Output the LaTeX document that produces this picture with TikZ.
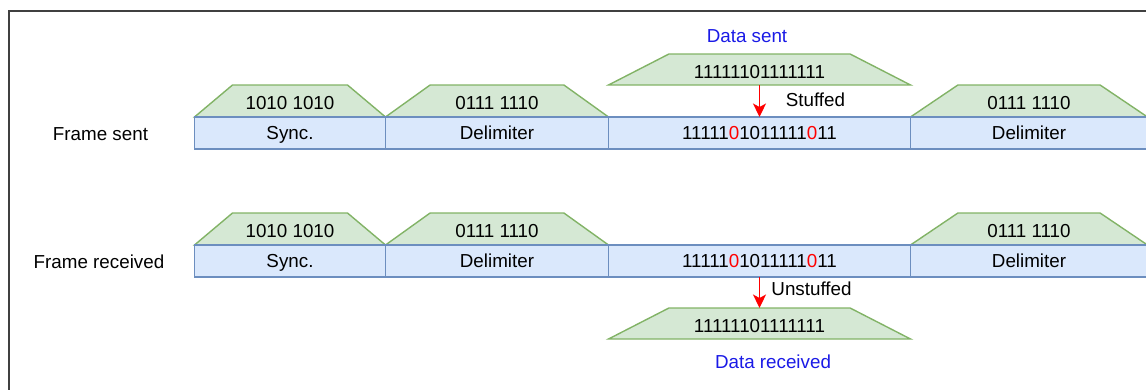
\documentclass[tikz,border=0pt]{standalone}
\usepackage{fontspec}
\setmainfont{Liberation Sans}
\usetikzlibrary{arrows.meta}

\definecolor{segfill}{HTML}{DAE8FC}
\definecolor{segline}{HTML}{6C8EBF}
\definecolor{capfill}{HTML}{D5E8D4}
\definecolor{capline}{HTML}{82B366}
\definecolor{capblue}{HTML}{1A1AE6}
\definecolor{bitred}{HTML}{FF0000}
\definecolor{framegray}{HTML}{404040}

\tikzset{
  lbl/.style={font=\fontsize{18.8}{22}\selectfont, inner sep=0pt, outer sep=0pt,
              text height=13.5pt, text depth=0pt},
  seg/.style={lbl, draw=segline, fill=segfill, line width=1.4pt,
              minimum height=32pt, anchor=north west},
  headline/.style={draw=capline, fill=capfill, line width=1.4pt, line join=miter},
  headtext/.style={lbl, text height=17.5pt},
  flowarrow/.style={draw=bitred, line width=1.4pt,
              -{Stealth[length=13.5pt,width=13pt,inset=3.5pt]}},
}
\newcommand{\rb}{\textcolor{bitred}{0}}
% trapezoid header: name, left x, right x, base y, top y, slant, text
\newcommand{\headcap}[7]{%
  \draw[headline] (#2,#4) -- (#2+#6,#5) -- (#3-#6,#5) -- (#3,#4) -- cycle;
  \node[headtext] (#1) at ({(#2+#3)/2},{(#4+#5)/2}) {#7};}

\begin{document}
\begin{tikzpicture}[x=1pt,y=-1pt]
  \useasboundingbox (0,0) rectangle (1146,389);
  \clip (0,0) rectangle (1146,389);

  % outer frame, running past the right and lower edges
  \draw[framegray, line width=1.3pt] (9,11) rectangle (1200,420);

  % ---- frame sent ----
  \headcap{syncCap1}{194.5}{385.5}{117}{85}{38}{1010 1010}
  \headcap{delimCapA1}{385.5}{608.5}{117}{85}{44.6}{0111 1110}
  \headcap{delimCapB1}{910.5}{1147.5}{117}{85}{47.4}{0111 1110}
  \headcap{dataSent}{608.5}{910.5}{85}{54}{60.4}{11111101111111}
  \coordinate (dataSentFoot) at (759.5,85);

  \node[lbl] (lblSent) at (100.5,133.3) {Frame sent};
  \node[seg, minimum width=191pt] (sync1) at (194.5,117) {Sync.};
  \node[seg, minimum width=223pt] (delimA1) at (385.5,117) {Delimiter};
  \node[seg, minimum width=302pt] (data1) at (608.5,117)
       {11111\rb1011111\rb11};
  \node[seg, minimum width=237pt] (delimB1) at (910.5,117) {Delimiter};

  \node[lbl, text=capblue] (dataSentLbl) at (747,36) {Data sent};
  \draw[flowarrow] (dataSentFoot) -- (data1.north);
  \node[lbl] (stuffedLbl) at (815.5,100) {Stuffed};

  % ---- frame received ----
  \headcap{syncCap2}{194.5}{385.5}{245}{213}{38}{1010 1010}
  \headcap{delimCapA2}{385.5}{608.5}{245}{213}{44.6}{0111 1110}
  \headcap{delimCapB2}{910.5}{1147.5}{245}{213}{47.4}{0111 1110}
  \headcap{dataRecv}{608.5}{910.5}{339}{308}{60.4}{11111101111111}
  \coordinate (dataRecvTop) at (759.5,308);

  \node[lbl] (lblRecv) at (99,261.5) {Frame received};
  \node[seg, minimum width=191pt] (sync2) at (194.5,245) {Sync.};
  \node[seg, minimum width=223pt] (delimA2) at (385.5,245) {Delimiter};
  \node[seg, minimum width=302pt] (data2) at (608.5,245)
       {11111\rb1011111\rb11};
  \node[seg, minimum width=237pt] (delimB2) at (910.5,245) {Delimiter};

  \node[lbl, text=capblue] (dataRecvLbl) at (773,362) {Data received};
  \draw[flowarrow] (data2.south) -- (dataRecvTop);
  \node[lbl] (unstuffedLbl) at (811.5,289) {Unstuffed};
\end{tikzpicture}
\end{document}
